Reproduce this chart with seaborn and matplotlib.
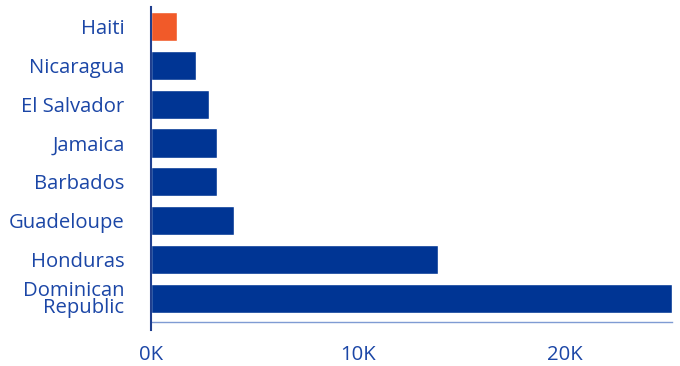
import matplotlib
matplotlib.use("Agg")
import matplotlib.pyplot as plt
import seaborn as sns
import pandas as pd

countries = ["Haiti", "Nicaragua", "El Salvador", "Jamaica", "Barbados",
             "Guadeloupe", "Honduras", "Dominican\nRepublic"]
values = [1280, 2160, 2790, 3170, 3170, 4000, 13880, 25200]
x_ticks = [0, 10000, 20000]
x_tick_labels = ["0K", "10K", "20K"]

BLUE = "#003594"
ORANGE = "#f15a29"
TEXT = "#1b46a6"

df = pd.DataFrame({"country": countries, "value": values})
palette = {c: (ORANGE if c == "Haiti" else BLUE) for c in countries}

sns.set_style("white")
plt.rcParams["font.family"] = ["Open Sans", "DejaVu Sans"]

fig = plt.figure(figsize=(6.8, 3.66), dpi=100)
ax = fig.add_axes([151 / 680, 1 - 330 / 366, (672 - 151) / 680, (330 - 7) / 366])

sns.barplot(data=df, x="value", y="country", hue="country", palette=palette,
            orient="h", width=0.75, legend=False, saturation=1, ax=ax)

ax.set_xlim(0, 25200)
ax.set_ylim(7.813, -0.5)
ax.set_xlabel("")
ax.set_ylabel("")

ax.set_xticks(x_ticks)
ax.set_xticklabels(x_tick_labels)
ax.tick_params(axis="x", length=6.5, width=1, color="#7f9bd3", pad=10,
               labelsize=14.6, labelcolor=TEXT)
ax.tick_params(axis="y", length=0, pad=19, labelsize=14.6, labelcolor=TEXT)
for lbl in ax.get_yticklabels():
    lbl.set_linespacing(0.82)
    lbl.set_multialignment("right")

for s in ["top", "right"]:
    ax.spines[s].set_visible(False)
ax.spines["bottom"].set_position(("data", 7.607))
ax.spines["bottom"].set_color("#7f9bd3")
ax.spines["bottom"].set_linewidth(1)
ax.spines["left"].set_color("#1f3f8f")
ax.spines["left"].set_linewidth(1.5)
ax.spines["left"].set_zorder(5)

fig.savefig("out.png", dpi=100)
